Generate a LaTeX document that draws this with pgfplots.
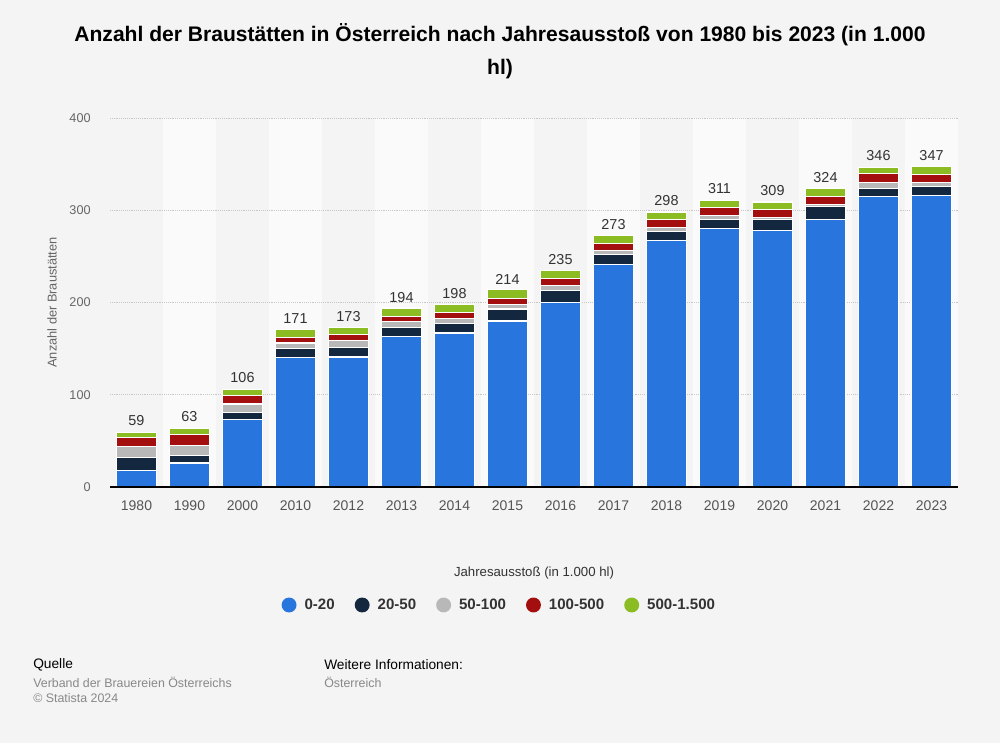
\documentclass[border=0pt]{standalone}
\usepackage{pgfplots}
\pgfplotsset{compat=1.18}
\usepackage{pgfplotstable}
\usepackage{fontspec}
\setmainfont{Liberation Sans}
\definecolor{bg}{HTML}{F4F4F4}
\definecolor{band}{HTML}{FAFAFA}
\definecolor{cA}{HTML}{2876DD}
\definecolor{cB}{HTML}{13273F}
\definecolor{cC}{HTML}{B8B8B8}
\definecolor{cD}{HTML}{A30F0F}
\definecolor{cE}{HTML}{8BBC21}
\definecolor{txt}{HTML}{333333}
\definecolor{xt}{HTML}{555555}
\definecolor{tick}{HTML}{666666}
\definecolor{foot}{HTML}{888888}

\pgfplotstableread{
x year a b c d e total
0 1980 18 14 12 10 5 59
1 1990 26 8 11 12 6 63
2 2000 73 8 9 9 7 106
3 2010 140 10 6 6 9 171
4 2012 141 10 8 6 8 173
5 2013 163 10 6 6 9 194
6 2014 167 10 6 6 9 198
7 2015 180 13 5 6 10 214
8 2016 200 13 5 8 9 235
9 2017 241 11 4 8 9 273
10 2018 267 10 4 9 8 298
11 2019 280 10 4 9 8 311
12 2020 278 12 2 9 8 309
13 2021 290 14 2 9 9 324
14 2022 315 9 6 10 6 346
15 2023 316 10 4 9 8 347
}\data

\pgfplotsset{circleleg/.style={legend image code/.code={\fill[##1, draw=none] (5.6pt,0pt) circle (5.6pt);}}}

\begin{document}
\begin{tikzpicture}
\fill[bg] (0,0) rectangle (750pt,557.25pt);
\path[use as bounding box] (0,0) rectangle (750pt,557.25pt);
\foreach \i in {1,3,...,15}{\fill[band] ({82.5pt+\i*39.75pt},192pt) rectangle ({82.5pt+(\i+1)*39.75pt},468.75pt);}
\node[align=center, font=\fontsize{15.8}{24.75}\selectfont\bfseries, text=black] at (375pt,518.6pt) {Anzahl der Braustätten in Österreich nach Jahresausstoß von 1980 bis 2023 (in 1.000\\hl)};
\begin{axis}[
  at={(82.5pt,192pt)}, anchor=south west,
  scale only axis, width=636pt, height=276.75pt,
  ybar stacked, bar width=30pt,
  xmin=-0.5, xmax=15.5, ymin=0, ymax=400,
  enlargelimits=false,
  xtick=data, xticklabels from table={\data}{year},
  ytick={0,100,200,300,400},
  major tick length=0pt,
  axis x line*=bottom, axis y line*=left,
  x axis line style={draw=none},
  y axis line style={draw=none},
  ymajorgrids, grid style={densely dotted, color=black!22, line width=0.6pt},
  /pgf/number format/assume math mode=true,
  xticklabel style={font=\fontsize{10.5}{12}\selectfont, text=xt, yshift=-7pt},
  yticklabel style={font=\fontsize{9.5}{11}\selectfont, text=tick, xshift=-11pt},
  ylabel={Anzahl der Braustätten},
  xlabel={Jahresausstoß (in 1.000 hl)},
  every axis y label/.style={at={(axis description cs:0,0.5)}, xshift=-43.5pt, rotate=90, anchor=center, font=\fontsize{9.6}{11}\selectfont, text=tick},
  every axis x label/.style={at={(axis description cs:0.5,0)}, yshift=-64.5pt, anchor=center, font=\fontsize{9.9}{11}\selectfont, text=txt},
  legend columns=5,
  legend style={at={(axis description cs:0.4595,0)}, yshift=-88.5pt, anchor=center, draw=none, fill=none, font=\fontsize{11.3}{13}\selectfont\bfseries, text=txt,
    /tikz/every even column/.append style={column sep=13pt}, /tikz/every odd column/.append style={column sep=4pt}},
  every axis plot/.append style={draw=white, line width=0.9pt},
]
\addplot[fill=cA, circleleg] table[x=x, y=a] {\data};
\addplot[fill=cB, circleleg] table[x=x, y=b] {\data};
\addplot[fill=cC, circleleg] table[x=x, y=c] {\data};
\addplot[fill=cD, circleleg] table[x=x, y=d] {\data};
\addplot[fill=cE, circleleg, point meta=explicit, nodes near coords,
  every node near coord/.append style={anchor=south, yshift=3.5pt, font=\fontsize{10.8}{12}\selectfont, text=txt}] table[x=x, y=e, meta=total] {\data};
\legend{0-20,20-50,50-100,100-500,500-1.500}
\end{axis}
\draw[black, line width=1.1pt] (82.5pt,192pt) -- (718.5pt,192pt);
\node[anchor=west, inner sep=0pt, font=\fontsize{10.3}{12}\selectfont, text=black] at (24.75pt,58.5pt) {Quelle};
\node[anchor=west, inner sep=0pt, font=\fontsize{9.3}{12}\selectfont, text=foot] at (24.75pt,45.75pt) {Verband der Brauereien Österreichs};
\node[anchor=west, inner sep=0pt, font=\fontsize{9.3}{12}\selectfont, text=foot] at (24.75pt,33.75pt) {© Statista 2024};
\node[anchor=west, inner sep=0pt, font=\fontsize{10.3}{12}\selectfont, text=black] at (243pt,58.5pt) {Weitere Informationen:};
\node[anchor=west, inner sep=0pt, font=\fontsize{9.3}{12}\selectfont, text=foot] at (243pt,45.75pt) {Österreich};
\end{tikzpicture}
\end{document}
